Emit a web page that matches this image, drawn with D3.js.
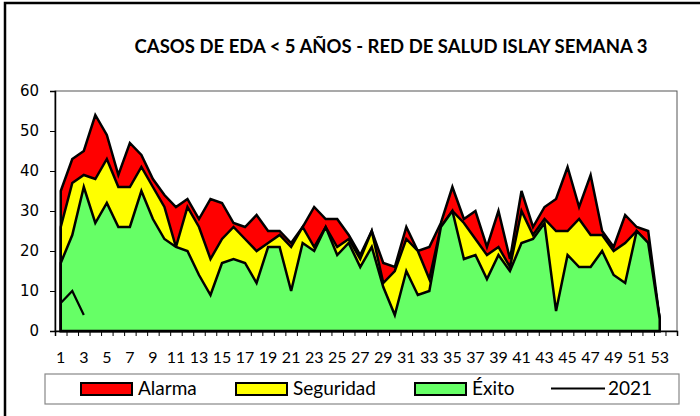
<!DOCTYPE html>
<html>
<head>
<meta charset="utf-8">
<script src="https://cdn.jsdelivr.net/npm/d3@7"></script>
<style>
  body { margin: 0; background: #fff; }
  svg { display: block; }
</style>
</head>
<body>
<div id="chart"></div>
<script>
// <-- Data -->
var weeks = d3.range(1, 54);
// canal endemico: limites superiores de cada zona
var alarma    = [35,43,45,54,49,39,47,44,38,34,31,33,28,33,32,27,26,29,25,25,22,26,31,28,28,24,19,25,17,16,26,20,21,27,36,28,30,21,30,18,35,26,31,33,41,31,39,25,21,29,26,25,3];
var seguridad = [26,37,39,38,43,36,36,41,36,31,21,31,26,18,23,26,23,20,22,24,21,26,21,26,21,23,18,25,12,15,23,20,13,26,30,27,23,19,21,16,30,24,28,25,25,28,24,24,20,22,25,22,3];
var exito     = [17,24,36,27,32,26,26,35,28,23,21,20,14,9,17,18,17,12,21,21,10,22,20,26,19,22,16,21,11,4,15,9,10,26,30,18,19,13,19,15,22,23,27,5,19,16,16,20,14,12,25,22,3];
var casos2021 = [7,10,4];
var yTicks = [0,10,20,30,40,50,60];
var xLabels = d3.range(1, 54, 2);
var series = [
  {name: "Alarma", values: alarma, color: "#ff0000"},
  {name: "Seguridad", values: seguridad, color: "#ffff00"},
  {name: "Éxito", values: exito, color: "#66ff66"}
];

;(function(){
  var W = 700, H = 416;
  var left = 55, right = 677, top = 91, bottom = 331;

  var svg = d3.select("#chart").append("svg")
              .attr("width", W)
              .attr("height", H);

  // marco exterior
  svg.append("rect")
     .attr("x", 5).attr("y", 3)
     .attr("width", 720).attr("height", 440)
     .attr("fill", "#fff")
     .attr("stroke", "#000")
     .attr("stroke-width", 2.5);

  // 54 categorias, la ultima vacia
  var x = d3.scaleBand().domain(d3.range(1, 55)).range([left, right]).padding(0);
  var xEdge = d3.scaleLinear().domain([0, 54]).range([left, right]);
  var y = d3.scaleLinear().domain([0, 60]).range([bottom, top]);
  var cx = function(w){ return x(w) + x.bandwidth() / 2; };

  // area del grafico
  svg.append("rect")
     .attr("x", left).attr("y", top)
     .attr("width", right - left).attr("height", bottom - top)
     .attr("fill", "#fff")
     .attr("stroke", "#555")
     .attr("stroke-width", 1);

  var area = d3.area()
               .x(function(d, i){ return cx(weeks[i]); })
               .y0(y(0))
               .y1(function(d){ return y(d); });

  svg.selectAll("path.zona")
     .data(series)
     .enter()
     .append("path")
     .attr("class", "zona")
     .attr("d", function(s){ return area(s.values) + "Z"; })
     .attr("fill", function(s){ return s.color; })
     .attr("stroke", "#000")
     .attr("stroke-width", 2.5)
     .attr("stroke-linejoin", "miter");

  var line = d3.line()
               .x(function(d, i){ return cx(weeks[i]); })
               .y(function(d){ return y(d); });

  svg.append("path")
     .attr("d", line(casos2021))
     .attr("fill", "none")
     .attr("stroke", "#000")
     .attr("stroke-width", 2.2);

  // eje Y
  var yAxis = svg.append("g")
                 .attr("transform", "translate(" + left + ",0)")
                 .call(d3.axisLeft(y).tickValues(yTicks).tickSize(5).tickPadding(11));
  yAxis.select(".domain").attr("stroke", "#000").attr("stroke-width", 1.5);
  yAxis.selectAll("line").attr("stroke", "#000");
  yAxis.selectAll("text")
       .attr("font-family", "'DejaVu Sans', Verdana, sans-serif")
       .attr("font-size", 15)
       .attr("fill", "#000");

  // eje X: marcas entre categorias
  var xTicks = svg.append("g")
                  .attr("transform", "translate(0," + bottom + ")")
                  .call(d3.axisBottom(xEdge).tickValues(d3.range(0, 55)).tickSize(5).tickFormat(""));
  xTicks.select(".domain").attr("stroke", "#000").attr("stroke-width", 1.5);
  xTicks.selectAll("line").attr("stroke", "#000");

  var xAxis = svg.append("g")
                 .attr("transform", "translate(0," + bottom + ")")
                 .call(d3.axisBottom(x).tickValues(xLabels).tickSize(0));
  xAxis.select(".domain").remove();
  xAxis.selectAll("text")
       .attr("y", 32).attr("dy", 0)
       .attr("font-family", "Lato, 'Open Sans', sans-serif")
       .attr("font-size", 16)
       .attr("fill", "#000");

  // titulo
  svg.append("text")
     .attr("x", 391).attr("y", 53)
     .attr("text-anchor", "middle")
     .attr("font-family", "Lato, 'Open Sans', sans-serif")
     .attr("font-weight", "bold")
     .attr("font-size", 18.5)
     .text("CASOS DE EDA < 5 AÑOS - RED DE SALUD ISLAY SEMANA 3");

  // leyenda
  svg.append("rect")
     .attr("x", 45).attr("y", 374)
     .attr("width", 634).attr("height", 30)
     .attr("fill", "#fff")
     .attr("stroke", "#888")
     .attr("stroke-width", 1.2);

  var legendX = [81, 236, 415];
  series.forEach(function(s, i){
    svg.append("rect")
       .attr("x", legendX[i]).attr("y", 383)
       .attr("width", 51).attr("height", 12)
       .attr("fill", s.color)
       .attr("stroke", "#000")
       .attr("stroke-width", 2);
    svg.append("text")
       .attr("x", legendX[i] + 57).attr("y", 395)
       .attr("font-family", "Lato, 'Open Sans', sans-serif")
       .attr("font-size", 19)
       .text(s.name);
  });
  svg.append("line")
     .attr("x1", 551).attr("x2", 605)
     .attr("y1", 388.5).attr("y2", 388.5)
     .attr("stroke", "#000")
     .attr("stroke-width", 2);
  svg.append("text")
     .attr("x", 608).attr("y", 395)
     .attr("font-family", "Lato, 'Open Sans', sans-serif")
     .attr("font-size", 19)
     .text("2021");
})();
</script>
</body>
</html>
